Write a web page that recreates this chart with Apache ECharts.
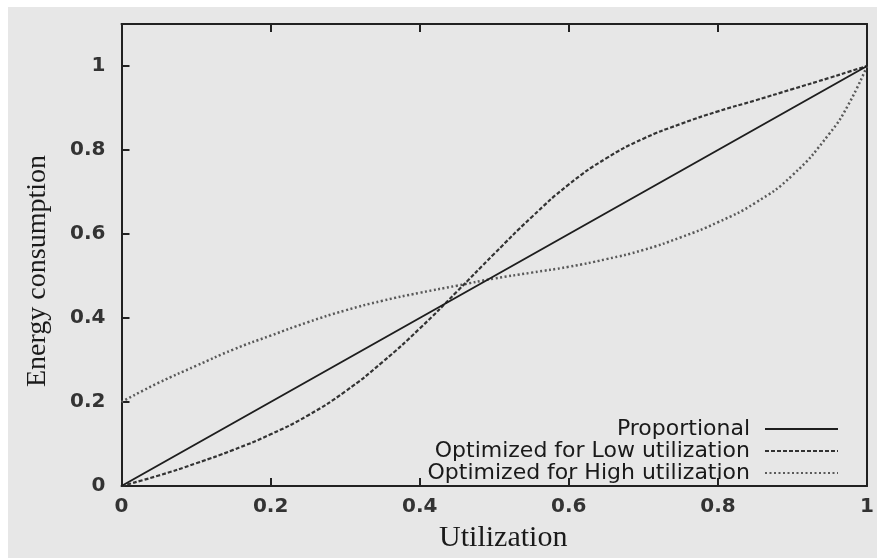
<!DOCTYPE html>
<html>
<head>
<meta charset="utf-8">
<script src="https://cdn.jsdelivr.net/npm/echarts@6/dist/echarts.min.js"></script>
<style>
html,body{margin:0;padding:0;background:#ffffff;}
#chart{width:877px;height:558px;}
</style>
</head>
<body>
<div id="chart"></div>
<script>
// Data
const utilization = [0, 0.05, 0.1, 0.15, 0.2, 0.25, 0.3, 0.35, 0.4, 0.45, 0.5, 0.55, 0.6, 0.65, 0.7, 0.75, 0.8, 0.85, 0.9, 0.95, 0.975, 1];
const proportional = [0, 0.05, 0.1, 0.15, 0.2, 0.25, 0.3, 0.35, 0.4, 0.45, 0.5, 0.55, 0.6, 0.65, 0.7, 0.75, 0.8, 0.85, 0.9, 0.95, 0.975, 1];
const lowOptimized = [0, 0.025, 0.054, 0.086, 0.123, 0.168, 0.225, 0.295, 0.375, 0.463, 0.553, 0.64, 0.718, 0.78, 0.827, 0.862, 0.892, 0.918, 0.945, 0.972, 0.986, 1];
const highOptimized = [0.2, 0.246, 0.286, 0.325, 0.358, 0.39, 0.418, 0.441, 0.46, 0.477, 0.494, 0.508, 0.522, 0.54, 0.562, 0.592, 0.628, 0.674, 0.74, 0.84, 0.908, 1];
const seriesNames = ['Proportional', 'Optimized for Low utilization', 'Optimized for High utilization'];
const xTickLabels = ['0', '0.2', '0.4', '0.6', '0.8', '1'];
const yTickLabels = ['0', '0.2', '0.4', '0.6', '0.8', '1'];

function pairs(ys) { return utilization.map((x, i) => [x, ys[i]]); }
function labelFor(list, v) {
  const idx = Math.round(v / 0.2);
  if (Math.abs(v - idx * 0.2) > 1e-6) return '';
  return list[idx] !== undefined ? list[idx] : '';
}

const chart = echarts.init(document.getElementById('chart'), null, {renderer: 'canvas'});
const axisCol = '#222';
const tickFont = {fontFamily: 'DejaVu Sans', fontSize: 20, fontWeight: 'bold', color: '#333'};
const nameFont = {fontFamily: 'Liberation Serif', fontSize: 28, color: '#1a1a1a'};

chart.setOption({
  backgroundColor: '#ffffff',
  animation: false,
  graphic: [{
    type: 'rect', z: -10, silent: true,
    shape: {x: 8, y: 7, width: 869, height: 551},
    style: {fill: '#e7e7e7'}
  }],
  grid: {left: 121.5, right: 8.5, top: 24, bottom: 69, containLabel: false},
  legend: {
    orient: 'vertical',
    right: 33,
    top: 413,
    align: 'right',
    itemWidth: 73,
    itemHeight: 12,
    itemGap: 0,
    itemStyle: {opacity: 0},
    textStyle: {fontFamily: 'DejaVu Sans', fontSize: 22, color: '#1a1a1a', lineHeight: 22, padding: [0, 10, 0, 0]},
    data: seriesNames
  },
  xAxis: [{
    type: 'value', min: 0, max: 1, interval: 0.2, position: 'bottom',
    name: 'Utilization', nameLocation: 'middle', nameGap: 37,
    nameTextStyle: Object.assign({}, nameFont, {fontSize: 30, padding: [0, 0, 0, 18]}),
    axisLine: {show: true, onZero: false, lineStyle: {color: axisCol, width: 2}},
    axisTick: {show: true, inside: true, length: 8, lineStyle: {color: axisCol, width: 2}},
    axisLabel: Object.assign({margin: 11, formatter: v => labelFor(xTickLabels, v)}, tickFont),
    splitLine: {show: false}
  }, {
    type: 'value', min: 0, max: 1, interval: 0.2, position: 'top',
    axisLine: {show: true, onZero: false, lineStyle: {color: axisCol, width: 2}},
    axisTick: {show: true, inside: true, length: 8, lineStyle: {color: axisCol, width: 2}},
    axisLabel: {show: false},
    splitLine: {show: false}
  }],
  yAxis: [{
    type: 'value', min: 0, max: 1.1, interval: 0.2, position: 'left',
    name: 'Energy consumption', nameLocation: 'middle', nameGap: 70,
    nameTextStyle: Object.assign({padding: [0, 32, 0, 0]}, nameFont),
    axisLine: {show: true, onZero: false, lineStyle: {color: axisCol, width: 2}},
    axisTick: {show: true, inside: true, length: 8, lineStyle: {color: axisCol, width: 2}},
    axisLabel: Object.assign({margin: 16, formatter: v => labelFor(yTickLabels, v)}, tickFont),
    splitLine: {show: false}
  }, {
    type: 'value', min: 0, max: 1.1, interval: 0.2, position: 'right',
    axisLine: {show: true, onZero: false, lineStyle: {color: axisCol, width: 2}},
    axisTick: {show: false},
    axisLabel: {show: false},
    splitLine: {show: false}
  }],
  series: [{
    name: seriesNames[0], type: 'line', data: pairs(proportional),
    symbol: 'none', smooth: false,
    lineStyle: {color: '#1e1e1e', width: 2, type: 'solid'},
    itemStyle: {color: '#1e1e1e'}, z: 5
  }, {
    name: seriesNames[1], type: 'line', data: pairs(lowOptimized),
    symbol: 'none', smooth: 0.5,
    lineStyle: {color: '#333333', width: 2.2, type: [4, 2]},
    itemStyle: {color: '#333333'}, z: 4
  }, {
    name: seriesNames[2], type: 'line', data: pairs(highOptimized),
    symbol: 'none', smooth: 0.5,
    lineStyle: {color: '#595959', width: 2.5, type: [2, 2.5]},
    itemStyle: {color: '#595959'}, z: 3
  }]
});
</script>
</body>
</html>
